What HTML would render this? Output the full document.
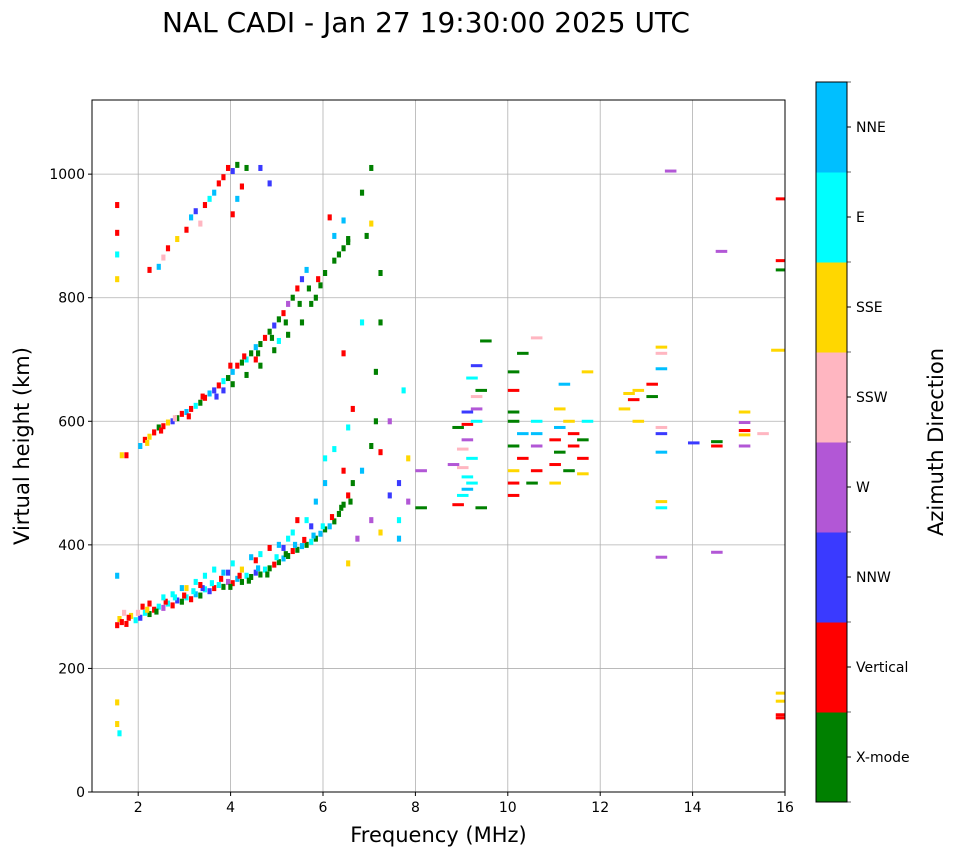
<!DOCTYPE html>
<html><head><meta charset="utf-8"><style>
html,body{margin:0;padding:0;background:#fff;}
svg{display:block;font-family:"DejaVu Sans","Liberation Sans",sans-serif;}
</style></head><body>
<svg id="c" width="958" height="857">
<defs><clipPath id="pc"><rect x="92" y="100" width="693" height="692"/></clipPath></defs>
<text x="426" y="32" font-size="28" text-anchor="middle">NAL CADI - Jan 27 19:30:00 2025 UTC</text>
<g id="grid"></g><g id="marks" clip-path="url(#pc)"></g><g id="axes"></g><g id="cbar"></g>
</svg>
<script>
const colors=["#008000","#ff0000","#3a3aff","#b257d6","#ffb6c1","#ffd700","#00ffff","#00bfff"];
const dirNames=["X-mode","Vertical","NNW","W","SSW","SSE","E","NNE"];
const xTicks=[2,4,6,8,10,12,14,16];
const yTicks=[0,200,400,600,800,1000];
const freqs=[],heights=[],dirs=[];
const raw="1.5 270 1;1.55 280 5;1.6 275 1;1.65 290 4;1.7 272 1;1.8 285 5;1.9 278 6;2.0 282 2;2.05 300 1;2.1 290 6;2.2 288 0;2.3 295 1;2.4 300 6;2.5 298 3;2.6 305 6;2.7 302 1;2.8 310 2;2.9 308 0;3.0 315 6;3.1 312 1;3.2 320 7;3.3 318 0;3.4 328 6;3.5 325 2;3.6 330 1;3.7 335 6;3.8 332 0;3.9 340 3;4.0 338 1;4.1 345 7;4.2 340 0;4.3 350 6;4.4 348 0;4.5 355 2;4.6 352 0;4.7 360 6;4.8 362 0;4.9 368 1;5.0 372 0;5.1 378 7;5.2 382 0;5.3 390 1;5.4 392 0;5.5 398 7;5.6 400 0;5.7 405 6;5.8 410 0;5.9 418 7;6.0 425 0;6.1 430 7;6.2 438 0;6.3 450 0;6.4 465 0;6.5 480 1;6.6 500 0;6.8 520 7;"+
"1.75 282 1;1.95 290 4;2.15 295 5;2.35 292 0;2.55 308 1;2.75 315 6;2.95 318 1;3.15 325 6;3.35 330 2;3.55 338 6;3.75 345 1;3.95 332 0;4.15 350 1;4.35 342 0;4.55 362 7;4.75 352 0;4.95 380 6;5.15 385 0;5.35 400 7;5.55 408 1;5.75 415 7;5.95 430 6;6.15 445 1;6.35 460 0;6.55 470 0;"+
"2.5 315 6;2.7 320 6;3.0 330 5;3.2 340 6;3.4 350 6;3.6 360 6;3.8 355 7;4.0 370 6;4.2 360 5;4.4 380 7;4.6 385 6;4.8 395 1;5.0 400 7;5.2 410 6;5.4 440 1;5.6 440 6;5.8 470 7;6.0 500 7;6.0 540 6;2.2 305 1;2.9 330 7;3.3 335 1;3.9 355 2;4.5 375 1;5.1 395 2;5.3 420 6;5.7 430 2;6.2 555 6;6.4 520 1;"+
"6.5 370 5;6.7 410 3;7.0 440 3;7.2 420 5;7.0 560 0;7.2 550 1;7.1 600 0;7.4 480 2;7.6 500 2;7.8 470 3;8.0 460 0;7.6 440 6;7.8 540 5;8.0 520 3;6.6 620 1;6.4 710 1;6.5 590 6;7.1 680 0;7.2 760 0;7.7 650 6;7.4 600 3;7.6 410 7;6.8 760 6;7.2 840 0;7.0 1010 0;6.8 970 0;7.0 920 5;6.9 900 0;"+
"1.6 545 5;1.7 545 1;2.0 560 7;2.1 570 1;2.2 575 5;2.3 582 1;2.4 590 0;2.5 592 1;2.6 598 5;2.7 600 2;2.8 605 0;2.9 612 1;3.0 615 7;3.1 620 1;3.2 625 6;3.3 630 0;3.4 638 1;3.5 645 7;3.6 650 2;3.7 658 1;3.8 665 6;3.9 670 0;4.0 680 7;4.1 690 1;4.2 695 0;4.3 700 6;4.4 710 0;4.5 720 7;4.6 725 0;4.7 735 1;4.8 745 0;4.9 755 2;5.0 765 0;5.1 775 1;5.2 790 3;5.3 800 0;5.4 815 1;5.5 830 2;5.6 845 7;5.8 800 0;5.9 820 0;6.0 840 0;6.2 860 0;6.4 880 0;6.5 895 0;6.2 900 7;6.1 930 1;6.4 925 7;4.0 660 0;4.3 675 0;4.6 690 0;4.9 715 0;5.2 740 0;5.5 760 0;5.7 790 0;3.8 650 2;4.5 700 1;5.0 730 6;"+
"2.15 565 5;2.45 585 1;2.75 605 4;3.05 608 1;3.35 640 1;3.65 640 2;3.95 690 1;4.25 705 1;4.55 710 0;4.85 735 0;5.15 760 0;5.45 790 0;5.65 815 0;5.85 830 1;6.3 870 0;6.5 890 0;"+
"2.2 845 1;2.4 850 7;2.5 865 4;2.6 880 1;2.8 895 5;3.0 910 1;3.1 930 7;3.2 940 2;3.3 920 4;3.4 950 1;3.5 960 6;3.6 970 7;3.7 985 1;3.8 995 1;3.9 1010 1;4.0 1005 2;4.1 1015 0;4.2 980 1;4.3 1010 0;4.6 1010 2;4.8 985 2;4.1 960 7;4.0 935 1;1.5 950 1;1.5 905 1;1.5 870 6;1.5 830 5;1.5 145 5;1.5 110 5;1.55 95 6;1.5 350 7;"+
"8.8 465 1;8.9 480 6;9.0 490 7;9.1 500 6;9.0 510 6;8.9 525 4;9.1 540 6;8.9 555 4;9.0 570 3;8.8 590 0;9.0 595 1;9.2 600 6;9.0 615 2;9.2 620 3;9.2 640 4;9.3 650 0;9.1 670 6;9.2 690 2;9.4 730 0;9.3 460 0;8.7 530 3;"+
"10.0 480 1;10.0 500 1;10.0 520 5;10.2 540 1;10.0 560 0;10.2 580 7;10.0 600 0;10.0 615 0;10.0 650 1;10.0 680 0;10.2 710 0;10.5 735 4;10.4 500 0;10.5 520 1;10.5 560 3;10.5 580 7;10.5 600 6;"+
"10.9 500 5;10.9 530 1;11.0 550 0;10.9 570 1;11.0 590 7;11.0 620 5;11.1 660 7;11.2 520 0;11.3 560 1;11.3 580 1;11.5 540 1;11.5 570 0;11.6 600 6;11.6 680 5;11.5 515 5;11.2 600 5;"+
"12.4 620 5;12.5 645 5;12.6 635 1;12.7 650 5;12.7 600 5;13.0 640 0;13.0 660 1;13.2 720 5;13.2 710 4;13.2 685 7;13.2 590 4;13.2 580 2;13.2 550 7;13.2 470 5;13.2 460 6;13.2 380 3;13.4 1005 3;13.9 565 2;14.4 560 1;14.4 567 0;14.5 875 3;14.4 388 3;15.0 615 5;15.0 598 3;15.0 585 1;15.0 578 5;15.0 560 3;15.4 580 4;15.7 715 5;15.8 960 1;15.8 860 1;15.8 845 0;15.8 160 5;15.8 147 5;15.8 125 1;15.8 120 1";
raw.split(";").forEach(s=>{const p=s.trim().split(/\s+/);freqs.push(+p[0]);heights.push(+p[1]);dirs.push(+p[2]);});

const NS="http://www.w3.org/2000/svg";
const X0=92,X1=785,Y0=792,Y1=100;
const xs=f=>X0+(f-1)/(16-1)*(X1-X0);
const ys=h=>Y0-(h/1120)*(Y0-Y1);
function mk(tag,attrs,parent){const e=document.createElementNS(NS,tag);for(const k in attrs)e.setAttribute(k,attrs[k]);parent.appendChild(e);return e;}
const grid=document.getElementById('grid'),marks=document.getElementById('marks'),axes=document.getElementById('axes'),cb=document.getElementById('cbar');
xTicks.forEach(t=>{const l=mk('line',{x1:xs(t),x2:xs(t),y1:Y1,y2:Y0,stroke:'#b0b0b0','stroke-width':0.8},grid);


mk('line',{x1:xs(t),x2:xs(t),y1:Y0,y2:Y0+4,stroke:'#000'},axes);
const tx=mk('text',{x:xs(t),y:Y0+20,'font-size':14,'text-anchor':'middle'},axes);tx.textContent=t;

});
yTicks.forEach(t=>{const l=mk('line',{x1:X0,x2:X1,y1:ys(t),y2:ys(t),stroke:'#b0b0b0','stroke-width':0.8},grid);


mk('line',{x1:X0-4,x2:X0,y1:ys(t),y2:ys(t),stroke:'#000'},axes);
const tx=mk('text',{x:X0-7,y:ys(t)+5,'font-size':14,'text-anchor':'end'},axes);tx.textContent=t;

});
for(let i=0;i<freqs.length;i++){
 const f=freqs[i];let w=f>=8?0.25:0.09;if(f>=15.7)w=0.4;if(f===15.7)w=0.9;
 const hpx=f>=8?3:6;
 const r=mk('rect',{x:xs(f),y:ys(heights[i])-hpx/2,width:w/15*(X1-X0),height:hpx,fill:colors[dirs[i]]},marks);
 
 
}
const fr=mk('rect',{x:X0,y:Y1,width:X1-X0,height:Y0-Y1,fill:'none',stroke:'#000','stroke-width':1},axes);


let t=mk('text',{x:(X0+X1)/2,y:842,'font-size':21,'text-anchor':'middle'},axes);t.textContent='Frequency (MHz)';


t=mk('text',{x:0,y:0,'font-size':21,'text-anchor':'middle',transform:'translate(29,446) rotate(-90)'},axes);t.textContent='Virtual height (km)';


const CX=816,CW=31,CT=82,CB=802,seg=(CB-CT)/8;
for(let k=0;k<8;k++){const y=CB-(k+1)*seg;
 const r=mk('rect',{x:CX,y:y,width:CW,height:seg+0.5,fill:colors[k]},cb);
 
 
 mk('line',{x1:CX+CW,x2:CX+CW+4,y1:y+seg/2,y2:y+seg/2,stroke:'#000'},cb);
 const tx=mk('text',{x:CX+CW+9,y:y+seg/2+5,'font-size':14},cb);tx.textContent=dirNames[k];
 
 }
for(let k=0;k<=8;k++){mk('line',{x1:CX+CW,x2:CX+CW+4,y1:CB-k*seg,y2:CB-k*seg,stroke:'#000','stroke-width':0.6},cb);}
mk('rect',{x:CX,y:CT,width:CW,height:CB-CT,fill:'none',stroke:'#000'},cb);
t=mk('text',{x:0,y:0,'font-size':21,'text-anchor':'middle',transform:'translate(943,442) rotate(-90)'},cb);t.textContent='Azimuth Direction';


</script>
</body></html>
